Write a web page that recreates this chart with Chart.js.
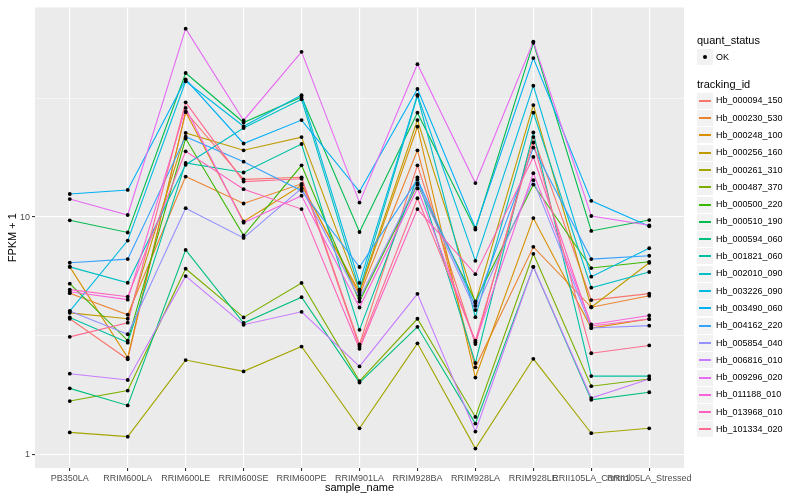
<!DOCTYPE html>
<html>
<head>
<meta charset="utf-8">
<script src="https://cdn.jsdelivr.net/npm/chart.js@4.4.0/dist/chart.umd.min.js"></script>
<style>
  html, body { margin: 0; padding: 0; background: #fff; }
  #wrap { position: relative; width: 800px; height: 500px; font-family: "Liberation Sans", Arial, sans-serif; }
  #legend { position: absolute; left: 0; top: 0; }
  .lg { position: absolute; white-space: nowrap; color: #000; }
  .key { position: absolute; background: #F2F2F2; }
</style>
</head>
<body>
<div id="wrap">
  <canvas id="chart" width="800" height="500"></canvas>
  <div id="legend"></div>
</div>
<script>
// --- data ---
const categories = ['PB350LA', 'RRIM600LA', 'RRIM600LE', 'RRIM600SE', 'RRIM600PE', 'RRIM901LA',
  'RRIM928BA', 'RRIM928LA', 'RRIM928LE', 'RRII105LA_Control', 'RRII105LA_Stressed'];

const Hb_000094_150 = [3.73, 2.52, 27.7, 14.4, 14.7, 2.91, 16.5, 2.92, 21.7, 4.47, 4.76];
const Hb_000230_530 = [4.78, 3.88, 14.8, 11.4, 13.8, 4.69, 19.1, 2.33, 7.49, 4.17, 4.66];
const Hb_000248_100 = [6.17, 2.56, 27.7, 9.59, 13.6, 4.81, 24.0, 2.11, 9.90, 3.41, 3.72];
const Hb_000256_160 = [3.95, 3.73, 22.6, 19.1, 21.7, 4.89, 25.6, 4.35, 29.6, 4.17, 6.42];
const Hb_000261_310 = [1.24, 1.19, 2.50, 2.24, 2.85, 1.29, 2.94, 1.06, 2.53, 1.23, 1.29];
const Hb_000487_370 = [1.68, 1.86, 6.06, 3.78, 5.28, 2.04, 3.73, 1.44, 7.00, 1.94, 2.08];
const Hb_000500_220 = [5.24, 3.02, 21.4, 8.36, 16.5, 4.41, 13.7, 4.41, 13.7, 6.10, 6.48];
const Hb_000510_190 = [9.69, 8.61, 40.4, 25.0, 32.0, 8.65, 27.5, 8.86, 54.1, 8.74, 9.71];
const Hb_000594_060 = [1.90, 1.61, 7.27, 3.58, 4.60, 2.01, 3.45, 1.35, 6.17, 1.70, 1.83];
const Hb_001821_060 = [3.78, 2.96, 16.9, 15.4, 20.3, 3.35, 14.7, 2.43, 22.7, 2.14, 2.14];
const Hb_002010_090 = [6.17, 5.29, 16.6, 23.7, 31.3, 4.95, 32.4, 3.79, 27.5, 5.04, 5.87];
const Hb_003226_090 = [4.02, 7.96, 37.3, 24.1, 32.6, 5.28, 32.7, 6.54, 35.7, 5.61, 7.39];
const Hb_003490_060 = [12.5, 13.0, 38.0, 20.4, 25.6, 12.8, 34.6, 8.99, 46.7, 11.7, 9.14];
const Hb_004162_220 = [6.42, 6.65, 21.8, 17.1, 12.9, 6.16, 14.4, 4.23, 19.6, 6.65, 6.87];
const Hb_005854_040 = [4.02, 3.21, 10.9, 8.17, 13.2, 4.54, 13.9, 4.06, 14.3, 3.41, 3.49];
const Hb_006816_010 = [2.19, 2.06, 5.64, 3.52, 3.99, 2.35, 4.75, 1.25, 6.17, 1.73, 2.08];
const Hb_009296_020 = [11.9, 10.2, 62.1, 25.5, 49.6, 11.5, 44.0, 13.9, 54.8, 10.1, 9.23];
const Hb_011188_010 = [4.85, 4.49, 28.8, 9.47, 12.3, 4.16, 13.2, 2.97, 15.3, 3.53, 3.85];
const Hb_013968_010 = [4.95, 4.62, 18.9, 13.1, 10.8, 2.79, 10.8, 5.75, 17.9, 3.48, 3.72];
const Hb_101334_020 = [3.13, 3.59, 30.4, 14.1, 14.5, 2.85, 12.0, 3.02, 20.6, 2.67, 2.88];

const trackingIds = ['Hb_000094_150', 'Hb_000230_530', 'Hb_000248_100', 'Hb_000256_160', 'Hb_000261_310',
  'Hb_000487_370', 'Hb_000500_220', 'Hb_000510_190', 'Hb_000594_060', 'Hb_001821_060', 'Hb_002010_090',
  'Hb_003226_090', 'Hb_003490_060', 'Hb_004162_220', 'Hb_005854_040', 'Hb_006816_010', 'Hb_009296_020',
  'Hb_011188_010', 'Hb_013968_010', 'Hb_101334_020'];
const seriesValues = [Hb_000094_150, Hb_000230_530, Hb_000248_100, Hb_000256_160, Hb_000261_310,
  Hb_000487_370, Hb_000500_220, Hb_000510_190, Hb_000594_060, Hb_001821_060, Hb_002010_090,
  Hb_003226_090, Hb_003490_060, Hb_004162_220, Hb_005854_040, Hb_006816_010, Hb_009296_020,
  Hb_011188_010, Hb_013968_010, Hb_101334_020];

// ggplot hue palette, 20 levels
const lineColors = ['#F8766D', '#EA8331', '#D89000', '#C09B00', '#A3A500', '#7CAE00', '#39B600', '#00BB4E',
  '#00BF7D', '#00C1A3', '#00BFC4', '#00BAE0', '#00B0F6', '#35A2FF', '#9590FF', '#C77CFF', '#E76BF3',
  '#FA62DB', '#FF62BC', '#FF6C91'];

const yMajorTicks = [1, 10];
const yMinorTicks = [3.162, 31.62];
const quantStatus = ['OK'];

Chart.defaults.font.family = '"Liberation Sans", Arial, sans-serif';

// grey panel behind the grid
const panelBg = {
  id: 'panelBg',
  beforeDraw(chart) {
    const { ctx, chartArea: a } = chart;
    ctx.save();
    ctx.fillStyle = '#EBEBEB';
    ctx.fillRect(a.left, a.top, a.right - a.left, a.bottom - a.top);
    ctx.restore();
  }
};

// points go on top of every line, like geom_point after geom_line
const dotsOnTop = {
  id: 'dotsOnTop',
  afterDatasetsDraw(chart) {
    const ctx = chart.ctx;
    ctx.save();
    ctx.fillStyle = '#000';
    chart.data.datasets.forEach((ds, i) => {
      chart.getDatasetMeta(i).data.forEach(pt => {
        ctx.beginPath();
        ctx.arc(pt.x, pt.y, 1.9, 0, Math.PI * 2);
        ctx.fill();
      });
    });
    ctx.restore();
  }
};

const isMajor = v => yMajorTicks.includes(v);

new Chart(document.getElementById('chart'), {
  type: 'line',
  data: {
    datasets: trackingIds.map((id, i) => ({
      label: id,
      data: seriesValues[i].map((v, j) => ({ x: j, y: v })),
      borderColor: lineColors[i],
      borderWidth: 1.1,
      pointRadius: 0,
      tension: 0,
      order: trackingIds.length - i
    }))
  },
  options: {
    responsive: false,
    animation: false,
    layout: { padding: { top: 5, right: 116, left: 0, bottom: 0 } },
    plugins: { legend: { display: false }, tooltip: { enabled: false } },
    scales: {
      x: {
        type: 'linear',
        bounds: 'data',
        min: -0.6,
        max: categories.length - 0.4,
        afterBuildTicks: s => { s.ticks = categories.map((c, i) => ({ value: i })); },
        afterFit: s => { s.height = 32; },
        ticks: {
          callback: v => categories[v],
          autoSkip: false, maxRotation: 0, minRotation: 0,
          color: '#4D4D4D', font: { size: 9 }, padding: 2
        },
        grid: { color: '#FFFFFF', lineWidth: 1.1, tickLength: 3, tickColor: '#333333' },
        border: { display: false },
        title: { display: true, text: 'sample_name', color: '#000', font: { size: 11 }, padding: { top: 0, bottom: 5 } }
      },
      y: {
        type: 'logarithmic',
        bounds: 'data',
        min: 0.878,
        max: 76.3,
        afterBuildTicks: s => { s.ticks = [...yMajorTicks, ...yMinorTicks].sort((a, b) => a - b).map(v => ({ value: v })); },
        afterFit: s => { s.width = 35; },
        ticks: {
          callback: v => isMajor(v) ? String(v) : '',
          color: '#4D4D4D', font: { size: 9 }, padding: 2
        },
        grid: {
          color: '#FFFFFF',
          lineWidth: c => (c.tick && isMajor(c.tick.value)) ? 1.1 : 0.55,
          tickLength: 3,
          tickColor: c => (c.tick && isMajor(c.tick.value)) ? '#333333' : 'rgba(0,0,0,0)'
        },
        border: { display: false },
        title: { display: true, text: 'FPKM + 1', color: '#000', font: { size: 11 }, padding: { top: 6, bottom: 0 } }
      }
    }
  },
  plugins: [panelBg, dotsOnTop]
});

// --- legend (ggplot style, two guides) ---
const legendEl = document.getElementById('legend');
function addText(txt, left, cy, size) {
  const d = document.createElement('div');
  d.className = 'lg';
  d.textContent = txt;
  d.style.left = left + 'px';
  d.style.top = (cy - size * 0.6) + 'px';
  d.style.fontSize = size + 'px';
  d.style.lineHeight = (size * 1.2) + 'px';
  legendEl.appendChild(d);
}
function addKey(cy) {
  const k = document.createElement('div');
  k.className = 'key';
  k.style.left = '697px';
  k.style.top = Math.round(cy - 8) + 'px';
  k.style.width = '16px';
  k.style.height = '16px';
  legendEl.appendChild(k);
  return k;
}

addText('quant_status', 697, 40.5, 11);
quantStatus.forEach((q, i) => {
  const cy = 57.3 + i * 17.3;
  const k = addKey(cy);
  const dot = document.createElement('div');
  dot.style.cssText = 'position:absolute;left:6px;top:6px;width:4px;height:4px;border-radius:2px;background:#000;';
  k.appendChild(dot);
  addText(q, 716, cy, 9);
});

addText('tracking_id', 697, 84.3, 11);
trackingIds.forEach((id, i) => {
  const cy = 100.7 + i * 17.3;
  const k = addKey(cy);
  const ln = document.createElement('div');
  ln.style.cssText = 'position:absolute;left:2px;top:7px;width:12px;height:2px;background:' + lineColors[i] + ';';
  k.appendChild(ln);
  addText(id, 716, cy, 9);
});
</script>
</body>
</html>
